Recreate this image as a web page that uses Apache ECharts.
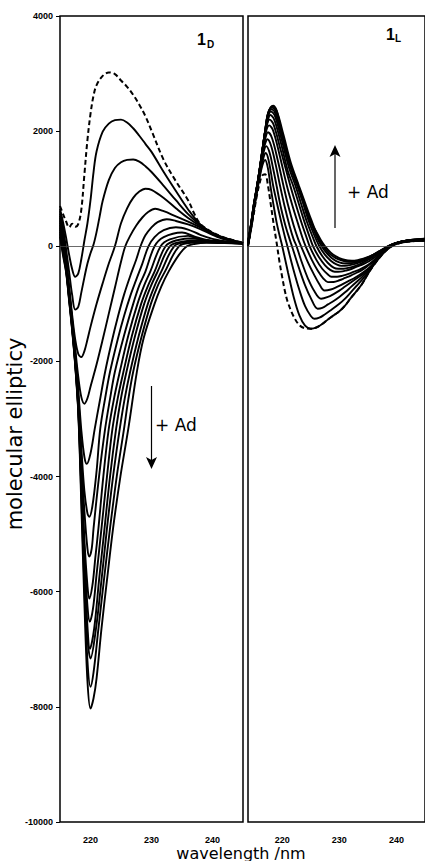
<!DOCTYPE html>
<html><head><meta charset="utf-8">
<script src="https://cdn.jsdelivr.net/npm/echarts@6/dist/echarts.min.js"></script>
<style>html,body{margin:0;padding:0;background:#fff}#c{width:425px;height:861px}</style>
</head><body><div id="c"></div>
<script>
// ---------- tick labels ----------
const xTickLabels = [220, 230, 240];
const yMin = -10000, yMax = 4000, yStep = 2000;

// ---------- left panel (1D) : [wavelength, ellipticity] ----------
const leftDashed = [[215,700],[215.5,560],[216,430],[216.5,330],[217,390],[217.5,340],[218,390],[218.5,640],[219,1250],[219.5,1850],[220,2300],[220.5,2620],[221,2800],[222,2960],[223,3020],[224,2990],[225,2880],[226,2770],[227,2630],[228,2460],[229,2260],[230,2010],[232,1500],[234,1130],[236,800],[237,570],[238,390],[240,240],[242,150],[245,60]];
const leftA = [[215,650],[215.5,420],[216,150],[216.5,-150],[217,-400],[217.5,-530],[218,-470],[218.5,-220],[219,100],[219.5,400],[220,800],[220.5,1290],[221,1650],[222,1990],[223,2130],[224,2190],[225,2200],[226,2150],[227,2050],[228,1920],[229,1780],[230,1640],[232,1290],[234,960],[236,640],[238,380],[240,235],[242,145],[245,55]];
const leftB = [[215,610],[215.5,330],[216,-50],[216.5,-450],[217,-850],[217.5,-1100],[218,-1050],[218.5,-800],[219,-540],[219.5,-300],[220,-120],[220.5,30],[221,250],[221.5,520],[222,790],[223,1150],[224,1360],[225,1460],[226,1500],[227,1507],[228,1470],[229,1390],[230,1290],[232,1050],[234,800],[236,560],[238,370],[240,230],[242,140],[245,55]];
const leftC = [[215,570],[215.5,250],[216,-200],[216.5,-700],[217,-1200],[217.5,-1620],[218,-1870],[218.5,-1924],[219,-1820],[219.5,-1620],[220,-1400],[221,-1000],[222,-640],[223,-300],[224,0],[225,400],[226,660],[227,840],[228,950],[229,1000],[230,980],[232,840],[234,660],[236,490],[238,350],[240,225],[242,135],[245,55]];
const leftD = [[215,530],[215.5,200],[216,-260],[216.5,-760],[217,-1270],[217.5,-1780],[218,-2270],[218.5,-2620],[219,-2734],[219.5,-2640],[220,-2440],[221,-2050],[222,-1620],[223,-1170],[224,-720],[225,-270],[225.7,0],[226.5,180],[227.5,360],[228.5,500],[229.5,600],[230.6,651],[232,610],[234,520],[236,430],[238,330],[240,220],[242,130],[245,55]];
const leftE = [[215,490],[215.5,160],[216,-290],[216.5,-790],[217,-1310],[217.5,-1850],[218,-2500],[218.5,-3200],[219,-3660],[219.4,-3780],[220,-3600],[220.7,-3168],[221.5,-2700],[222.4,-2180],[223.5,-1650],[224.5,-1220],[225.5,-840],[226.5,-520],[227.5,-230],[228.2,0],[229,190],[230,330],[231,420],[232.5,470],[234,440],[236,380],[238,300],[240,200],[242,120],[245,55]];
const leftF = [[215,450],[215.5,120],[216,-310],[216.5,-810],[217,-1330],[217.5,-1900],[218,-2600],[218.5,-3500],[219,-4250],[219.5,-4640],[219.8,-4700],[220.3,-4520],[221,-3900],[221.6,-3168],[222.4,-2640],[223.2,-2180],[224.5,-1600],[225.5,-1210],[226.5,-870],[227.5,-580],[228.5,-300],[229.5,0],[230.5,160],[232,280],[234,330],[236,290],[238,200],[240,130],[242,90],[245,50]];
const leftG = [[215,410],[215.5,80],[216,-330],[216.5,-830],[217,-1350],[217.5,-1950],[218,-2650],[218.5,-3700],[219,-4600],[219.5,-5250],[219.8,-5390],[220.2,-5250],[220.5,-4900],[221.4,-4000],[222.4,-3168],[223.2,-2650],[224,-2180],[225.5,-1550],[227,-1000],[228,-680],[229,-440],[230.5,0],[232,160],[235,240],[237,170],[239,110],[242,80],[245,50]];
const leftH = [[215,370],[215.5,40],[216,-350],[216.5,-850],[217,-1370],[217.5,-1980],[218,-2700],[218.5,-3900],[219,-5100],[219.5,-5900],[219.8,-6120],[220.3,-5900],[220.8,-5400],[221.3,-4900],[222.1,-4000],[223,-3168],[223.9,-2620],[224.8,-2180],[226.2,-1550],[227.7,-1000],[228.8,-680],[229.8,-440],[231.5,0],[233,120],[236,180],[238,120],[240,90],[242,70],[245,50]];
const leftI = [[215,330],[215.5,0],[216,-370],[216.5,-870],[217,-1390],[217.5,-2000],[218,-2750],[218.5,-4000],[219,-5300],[219.5,-6250],[219.9,-6520],[220.4,-6300],[221,-5700],[221.8,-4900],[222.7,-4000],[223.6,-3168],[224.5,-2620],[225.4,-2180],[226.8,-1550],[228.3,-1000],[229.4,-690],[230.5,-440],[232.3,0],[234,100],[237,140],[239,100],[242,70],[245,50]];
const leftJ = [[215,290],[215.5,-40],[216,-390],[216.5,-890],[217,-1410],[217.5,-2020],[218,-2800],[218.5,-4100],[219,-5500],[219.5,-6600],[219.9,-6990],[220.6,-6640],[221.4,-5800],[222.3,-4900],[223.2,-4000],[224.2,-3168],[225,-2640],[225.9,-2180],[227.3,-1560],[228.8,-1000],[229.9,-690],[231,-440],[233,0],[235,80],[238,110],[240,90],[242,70],[245,50]];
const leftK = [[215,250],[215.5,-80],[216,-410],[216.5,-910],[217,-1430],[217.5,-2040],[218,-2830],[218.5,-4200],[219,-5650],[219.5,-6800],[220,-7160],[220.9,-6640],[221.8,-5800],[222.7,-4900],[223.7,-4000],[224.8,-3168],[225.6,-2650],[226.5,-2180],[227.9,-1560],[229.4,-1000],[230.5,-690],[231.6,-440],[233.7,0],[235.5,70],[238,90],[240,80],[242,65],[245,50]];
const leftL = [[215,210],[215.5,-120],[216,-430],[216.5,-930],[217,-1450],[217.5,-2060],[218,-2870],[218.5,-4350],[219,-5900],[219.5,-7200],[220,-7650],[220.5,-7400],[221.3,-6640],[222.2,-5800],[223.2,-4900],[224.3,-4000],[225.5,-3168],[226.2,-2660],[227,-2180],[228.4,-1560],[229.9,-1000],[231,-690],[232.2,-440],[234.5,0],[236.5,60],[239,70],[242,60],[245,45]];
const leftM = [[215,170],[215.5,-160],[216,-450],[216.5,-950],[217,-1470],[217.5,-2080],[218,-2900],[218.5,-4500],[219,-6200],[219.5,-7550],[220,-8030],[220.5,-7850],[221,-7500],[221.8,-6640],[222.7,-5800],[223.7,-4900],[224.9,-4000],[226.2,-3168],[227.6,-2180],[228.7,-1600],[230.5,-1000],[231.6,-700],[232.8,-440],[234.5,-150],[235.8,0],[237,40],[239,60],[242,55],[245,45]];

// ---------- right panel (1L) ----------
const rightDashed = [[214,0],[214.5,280],[215,560],[215.5,850],[216,1080],[216.5,1230],[217,1250],[217.5,1050],[218,720],[218.5,380],[219,70],[219.5,-260],[220,-540],[220.5,-795],[221,-980],[222,-1220],[223,-1370],[224,-1425],[225,-1432],[226,-1410],[227,-1350],[228,-1270],[229,-1200],[230,-1130],[231,-1030],[232,-900],[233,-780],[234,-650],[235,-480],[236,-330],[237,-200],[238,-90],[239,-10],[240,40],[242,80],[245,100]];
const right1 = [[214,0],[214.5,290],[215,600],[215.5,900],[216,1170],[216.5,1400],[217,1500],[217.5,1350],[218,1000],[218.5,700],[219,420],[219.5,200],[220,0],[221,-450],[222,-880],[223,-1200],[224,-1380],[225,-1432],[226,-1410],[227,-1350],[228,-1270],[229,-1200],[230,-1130],[231,-1030],[232,-900],[233,-780],[234,-650],[235,-480],[236,-330],[237,-200],[238,-90],[239,-10],[240,40],[242,80],[245,100]];
const right2 = [[214,10],[214.5,300],[215,620],[215.5,930],[216,1210],[216.5,1460],[217.1,1620],[217.6,1500],[218.4,1056],[219,780],[219.5,560],[220,350],[220.5,150],[220.9,0],[222,-420],[223,-760],[224,-1040],[225,-1210],[225.6,-1259],[226.5,-1240],[227.5,-1180],[228.5,-1110],[230,-1000],[231,-910],[232,-800],[233,-690],[234,-580],[235,-450],[236,-320],[237,-190],[238,-80],[239,0],[240,50],[242,85],[245,100]];
const right3 = [[214,20],[214.5,310],[215,640],[215.5,950],[216,1250],[216.5,1530],[217.2,1740],[217.8,1620],[218.4,1350],[219,1056],[219.7,700],[220.5,380],[221.2,150],[221.7,0],[223,-400],[224,-680],[225,-900],[226.2,-1085],[227,-1070],[228,-1010],[229,-950],[230,-880],[231,-800],[232,-710],[233,-620],[234,-530],[235,-420],[236,-310],[237,-180],[238,-70],[239,10],[240,55],[242,90],[245,105]];
const right4 = [[214,30],[214.5,320],[215,650],[215.5,960],[216,1270],[216.5,1580],[217,1780],[217.4,1860],[218,1760],[218.8,1440],[219.6,1056],[220.4,700],[221.3,350],[222,120],[222.5,0],[223.5,-300],[224.5,-560],[225.5,-760],[226.8,-911],[228,-880],[229,-830],[230,-770],[231,-700],[232,-630],[233,-560],[234,-490],[235,-400],[236,-300],[237,-170],[238,-60],[239,15],[240,60],[242,95],[245,110]];
const right5 = [[214,35],[214.5,330],[215,660],[215.5,970],[216,1280],[216.5,1610],[217,1860],[217.5,1980],[218.2,1880],[219.2,1500],[220.2,1056],[221,720],[222,360],[222.8,120],[223.3,0],[224.5,-280],[225.5,-480],[226.5,-660],[227.4,-767],[228.5,-750],[229.5,-710],[230.5,-660],[231.5,-610],[232.5,-560],[233.5,-500],[234.5,-430],[235.5,-350],[236.5,-240],[237.5,-120],[238.5,-20],[239.5,40],[242,95],[245,110]];
const right6 = [[214,40],[214.5,335],[215,670],[215.5,980],[216,1290],[216.5,1630],[217,1930],[217.7,2100],[218.4,2010],[219.5,1600],[220.8,1056],[221.8,700],[222.8,380],[223.6,130],[224.1,0],[225.2,-240],[226.2,-420],[227.2,-560],[228,-622],[229,-620],[230,-590],[231,-550],[232,-510],[233,-460],[234,-410],[235,-340],[236,-260],[237,-160],[238,-60],[239,10],[240,60],[242,100],[245,115]];
const right7 = [[214,45],[214.5,340],[215,680],[215.5,985],[216,1295],[216.5,1640],[217,1970],[217.8,2200],[218.5,2110],[219.7,1680],[221.4,1056],[222.4,720],[223.4,400],[224.3,140],[224.8,0],[226,-240],[227,-390],[228,-490],[228.6,-530],[229.6,-530],[230.6,-510],[231.6,-480],[232.6,-440],[233.6,-400],[234.6,-350],[235.6,-280],[236.6,-190],[237.6,-90],[238.6,-10],[240,60],[242,100],[245,115]];
const right8 = [[214,50],[214.5,345],[215,690],[215.5,990],[216,1300],[216.5,1645],[217,1990],[217.5,2200],[217.9,2280],[218.6,2200],[219.8,1780],[221,1300],[221.9,1056],[222.9,740],[223.9,420],[224.8,160],[225.4,0],[226.5,-200],[227.5,-330],[228.4,-410],[229.2,-443],[230.2,-440],[231.2,-420],[232.2,-390],[233.2,-350],[234.2,-310],[235.2,-260],[236.2,-190],[237.2,-110],[238.2,-30],[239.2,30],[240.5,70],[242,100],[245,120]];
const right9 = [[214,55],[214.5,350],[215,700],[215.5,995],[216,1305],[216.5,1650],[217,2000],[217.5,2250],[218,2340],[218.7,2270],[219.9,1850],[221.2,1360],[222.3,1056],[223.3,740],[224.3,430],[225.3,170],[226,0],[227,-170],[228,-290],[229,-370],[229.8,-390],[230.8,-390],[231.8,-370],[232.8,-340],[233.8,-300],[234.8,-250],[235.8,-190],[236.8,-120],[237.8,-50],[238.8,10],[240,60],[242,100],[245,120]];
const right10 = [[214,60],[214.5,355],[215,705],[215.5,1000],[216,1310],[216.5,1655],[217,2000],[217.5,2290],[218.1,2380],[218.8,2310],[220,1900],[221.3,1420],[222.6,1056],[223.6,760],[224.6,450],[225.7,170],[226.5,0],[227.5,-150],[228.5,-250],[229.5,-315],[230.4,-340],[231.4,-335],[232.4,-315],[233.4,-285],[234.4,-245],[235.4,-195],[236.4,-135],[237.4,-70],[238.4,-10],[239.5,40],[241,80],[243,110],[245,125]];
const right11 = [[214,65],[214.5,360],[215,710],[215.5,1000],[216,1310],[216.5,1660],[217,2000],[217.5,2300],[218.2,2410],[218.9,2340],[220.1,1920],[221.4,1430],[222.8,1056],[223.8,770],[224.8,470],[226,170],[226.9,0],[227.9,-130],[229,-230],[230,-280],[231,-300],[232,-295],[233,-275],[234,-245],[235,-200],[236,-145],[237,-85],[238,-25],[239,25],[240.5,70],[242.5,105],[245,125]];
const right12 = [[214,70],[214.5,365],[215,715],[215.5,1000],[216,1310],[216.5,1660],[217,2000],[217.5,2300],[218.3,2430],[219,2360],[220.2,1940],[221.5,1450],[222.9,1056],[223.9,780],[225,480],[226.2,180],[227.2,0],[228.2,-120],[229.3,-200],[230.5,-250],[231.6,-270],[232.6,-265],[233.6,-245],[234.6,-210],[235.6,-165],[236.6,-110],[237.6,-55],[238.6,0],[240,55],[242,100],[245,130]];
const right13 = [[214,75],[214.5,370],[215,720],[215.5,1000],[216,1310],[216.5,1660],[217,2000],[217.5,2310],[218,2420],[218.4,2444],[219,2360],[220.2,1866],[221.4,1403],[222.2,1170],[223.1,960],[224.3,594],[225.2,380],[226,246],[226.8,100],[227.5,0],[228.5,-110],[229.5,-180],[230.5,-225],[231.5,-248],[232.2,-250],[233.2,-240],[234.2,-215],[235.2,-180],[236.2,-135],[237.2,-80],[238.2,-25],[239.2,25],[240.5,70],[242.5,110],[245,130]];

const leftSolid = [leftA, leftB, leftC, leftD, leftE, leftF, leftG, leftH, leftI, leftJ, leftK, leftL, leftM];
const rightSolid = [right1, right2, right3, right4, right5, right6, right7, right8, right9, right10, right11, right12, right13];

const TICKFONT = '"Liberation Sans", Arial, sans-serif';
const FONT = '"DejaVu Sans", Verdana, sans-serif';
const zeroLine = {
  silent: true, symbol: ['none', 'none'], label: { show: false },
  lineStyle: { color: '#444', width: 0.8, type: 'solid' },
  data: [{ yAxis: 0 }], animation: false
};
function curve(data, panel, dashed, withZero) {
  const s = {
    type: 'line', xAxisIndex: panel, yAxisIndex: panel, data: data,
    showSymbol: false, symbol: 'none', smooth: 0.35, silent: true, animation: false,
    lineStyle: { color: '#000', width: dashed ? 2 : 1.9, type: dashed ? [5, 3] : 'solid' },
    z: dashed ? 1 : 2
  };
  if (withZero) s.markLine = zeroLine;
  return s;
}
const series = [];
series.push(curve(leftDashed, 0, true, true));
leftSolid.forEach(d => series.push(curve(d, 0, false, false)));
series.push(curve(rightDashed, 1, true, true));
rightSolid.forEach(d => series.push(curve(d, 1, false, false)));

function xAxisFor(grid, min) {
  return {
    type: 'value', gridIndex: grid, min: min, max: 245,
    axisLine: { show: false }, axisTick: { show: false }, splitLine: { show: false },
    axisLabel: { customValues: xTickLabels, fontSize: 9, fontWeight: 'bold', color: '#000', margin: 13, fontFamily: TICKFONT }
  };
}
function yAxisFor(grid, labels) {
  return {
    type: 'value', gridIndex: grid, min: yMin, max: yMax, interval: yStep,
    axisLine: { show: false }, splitLine: { show: false },
    axisTick: { show: labels, length: 4, lineStyle: { color: '#000', width: 1 } },
    axisLabel: { show: labels, fontSize: 9, fontWeight: 'bold', color: '#000', margin: 7, fontFamily: TICKFONT,
      formatter: v => String(v) }
  };
}
function txt(text, x, y, size, opts) {
  return Object.assign({
    type: 'text', x: x, y: y, silent: true,
    style: Object.assign({ text: text, fill: '#000', fontSize: size, fontFamily: FONT, align: 'left', verticalAlign: 'top' }, (opts && opts.style) || {})
  }, (opts && opts.el) || {});
}
const option = {
  animation: false,
  backgroundColor: '#fff',
  grid: [
    { left: 60, top: 16, width: 183, height: 806, show: true, borderColor: '#000', borderWidth: 1.5, backgroundColor: 'transparent' },
    { left: 248, top: 16, width: 177, height: 806, show: true, borderColor: '#000', borderWidth: 1.5, backgroundColor: 'transparent' }
  ],
  xAxis: [xAxisFor(0, 215), xAxisFor(1, 214)],
  yAxis: [yAxisFor(0, true), yAxisFor(1, false)],
  series: series,
  graphic: [
    txt('1', 197, 31, 16, { style: { fontFamily: TICKFONT, fontWeight: 'bold' } }),
    txt('D', 207, 39, 10, { style: { fontFamily: TICKFONT, fontWeight: 'bold' } }),
    txt('1', 386, 26, 16, { style: { fontFamily: TICKFONT, fontWeight: 'bold' } }),
    txt('L', 395, 33, 10, { style: { fontFamily: TICKFONT, fontWeight: 'bold' } }),
    { type: 'line', silent: true, shape: { x1: 151.5, y1: 386, x2: 151.5, y2: 462 }, style: { stroke: '#000', lineWidth: 1.2 } },
    { type: 'polygon', silent: true, shape: { points: [[146, 457], [151.5, 469], [157, 457], [151.5, 460]] }, style: { fill: '#000' } },
    txt('+ Ad', 155, 416, 17),
    { type: 'line', silent: true, shape: { x1: 335, y1: 228, x2: 335, y2: 152 }, style: { stroke: '#000', lineWidth: 1.2 } },
    { type: 'polygon', silent: true, shape: { points: [[329.5, 157], [335, 145], [340.5, 157], [335, 154]] }, style: { fill: '#000' } },
    txt('+ Ad', 347, 183, 17),
    txt('molecular ellipticy', 15, 434, 21, { el: { rotation: Math.PI / 2 }, style: { align: 'center', verticalAlign: 'middle' } }),
    txt('wavelength /nm', 241, 845, 16, { style: { align: 'center' } })
  ]
};
const chart = echarts.init(document.getElementById('c'), null, { renderer: 'svg', width: 425, height: 861 });
chart.setOption(option);
</script>
</body></html>
